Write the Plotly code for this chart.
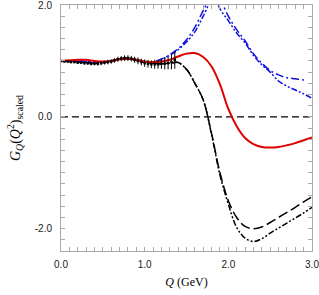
import plotly.graph_objects as go

# ---- data ----
q_red = [0.0,0.1,0.2,0.3,0.4,0.5,0.6,0.7,0.8,0.9,1.0,1.1,1.2,1.3,1.4,1.5,1.6,1.7,1.8,1.9,2.0,2.1,2.2,2.3,2.4,2.5,2.6,2.7,2.8,2.9,3.0]
g_red = [1.0,1.01,1.02,1.02,1.0,0.99,1.0,1.03,1.04,1.02,0.99,0.98,0.99,1.02,1.08,1.13,1.14,1.07,0.9,0.58,0.14,-0.17,-0.38,-0.49,-0.54,-0.55,-0.54,-0.51,-0.47,-0.42,-0.37]

q_blue_a = [0.0,0.1,0.2,0.3,0.4,0.5,0.6,0.7,0.8,0.9,1.0,1.1,1.2,1.3,1.4,1.5,1.6,1.7,1.8,1.85,1.9,2.0,2.1,2.2,2.3,2.4,2.5,2.6,2.7,2.8,2.9,3.0]
g_blue_a = [1.0,1.0,1.0,0.99,0.98,0.98,1.0,1.03,1.04,1.01,0.98,0.98,1.03,1.1,1.2,1.34,1.52,1.8,2.08,2.1,1.93,1.72,1.5,1.32,1.1,0.93,0.8,0.64,0.55,0.48,0.41,0.33]

q_blue_b = [0.0,0.1,0.2,0.3,0.4,0.5,0.6,0.7,0.8,0.9,1.0,1.1,1.2,1.3,1.4,1.5,1.6,1.7,1.8,1.85,1.9,2.0,2.1,2.2,2.3,2.4,2.5,2.6,2.7,2.8,2.9,2.93]
g_blue_b = [1.0,1.0,1.0,0.99,0.98,0.98,1.0,1.03,1.04,1.01,0.98,0.98,1.03,1.11,1.22,1.38,1.6,1.9,2.15,2.17,2.1,1.8,1.56,1.36,1.13,0.96,0.83,0.75,0.7,0.68,0.66,0.66]

q_black = [0.0,0.1,0.2,0.3,0.4,0.5,0.6,0.7,0.8,0.9,1.0,1.1,1.2,1.3,1.4,1.5,1.6,1.7,1.8,1.9,2.0,2.1,2.2,2.3,2.4,2.5,2.6,2.7,2.8,2.9,3.0]
g_black_dash = [1.0,0.99,0.98,0.97,0.96,0.97,1.0,1.04,1.05,1.02,0.98,0.96,0.95,0.96,0.97,0.85,0.6,0.3,-0.3,-1.0,-1.5,-1.8,-1.96,-2.0,-1.97,-1.89,-1.8,-1.71,-1.62,-1.52,-1.43]
g_black_dd = [1.0,0.99,0.98,0.97,0.96,0.97,1.0,1.04,1.05,1.02,0.98,0.96,0.95,0.96,0.97,0.85,0.6,0.3,-0.32,-1.04,-1.56,-1.98,-2.17,-2.23,-2.18,-2.08,-1.99,-1.9,-1.81,-1.72,-1.62]

q_data = [0.00,0.04,0.08,0.12,0.16,0.20,0.24,0.28,0.32,0.36,0.40,0.44,0.48,0.52,0.56,0.60,0.64,0.68,0.72,0.76,0.80,0.84,0.88,0.92,0.96,1.00,1.04,1.08,1.12,1.16,1.20,1.24,1.28,1.32,1.36]
g_data = [1.00,0.99,0.99,0.98,0.98,0.97,0.97,0.96,0.96,0.95,0.95,0.95,0.96,0.97,0.98,0.99,1.01,1.03,1.04,1.05,1.05,1.04,1.02,1.00,0.98,0.96,0.95,0.94,0.94,0.94,0.95,0.95,0.96,0.98,1.02]
e_data = [0.01,0.01,0.015,0.02,0.02,0.02,0.025,0.025,0.03,0.03,0.03,0.035,0.035,0.035,0.04,0.04,0.04,0.045,0.045,0.05,0.05,0.05,0.055,0.06,0.06,0.065,0.07,0.07,0.08,0.08,0.09,0.1,0.11,0.13,0.16]

x_ticks = [0.0, 1.0, 2.0, 3.0]
x_tick_text = ["0.0", "1.0", "2.0", "3.0"]
y_ticks = [-2.0, 0.0, 2.0]
y_tick_text = ["-2.0", "0.0", "2.0"]

X_RANGE = [0, 3.0]
Y_RANGE = [-2.4, 2.0]

fig = go.Figure()

fig.add_trace(go.Scatter(x=[0.0, 3.0], y=[0.0, 0.0], mode="lines",
                         line=dict(color="black", width=1.2, dash="7px,4px")))
fig.add_trace(go.Scatter(x=q_black, y=g_black_dash, mode="lines", line_shape="spline",
                         line=dict(color="black", width=1.5, dash="10px,4px")))
fig.add_trace(go.Scatter(x=q_black, y=g_black_dd, mode="lines", line_shape="spline",
                         line=dict(color="black", width=1.5, dash="6px,2px,2px,2px,2px,2px")))
fig.add_trace(go.Scatter(x=q_blue_a, y=g_blue_a, mode="lines", line_shape="spline",
                         line=dict(color="#1010e0", width=1.5, dash="6px,2px,2px,2px,2px,2px")))
fig.add_trace(go.Scatter(x=q_blue_b, y=g_blue_b, mode="lines", line_shape="spline",
                         line=dict(color="#1010e0", width=1.5, dash="8px,3px,2px,3px")))
fig.add_trace(go.Scatter(x=q_red, y=g_red, mode="lines", line_shape="spline",
                         line=dict(color="#e00000", width=2)))
fig.add_trace(go.Scatter(x=q_data, y=g_data, mode="markers",
                         marker=dict(color="black", size=2.5, symbol="square"),
                         error_y=dict(type="data", array=e_data, color="black", thickness=1, width=0)))
# invisible trace on the mirrored axes so their ticks are drawn
fig.add_trace(go.Scatter(x=[0.0], y=[0.0], xaxis="x2", yaxis="y2", mode="markers",
                         marker=dict(opacity=0), hoverinfo="skip"))

minor_x = [round(i * 0.1, 1) for i in range(31)]
minor_y = [round(-2.4 + i * 0.2, 1) for i in range(23)]

tick_font = dict(family="Liberation Sans", size=10, color="#222")

fig.update_layout(
    width=319, height=295,
    margin=dict(l=61, r=7, t=5, b=44),
    paper_bgcolor="white", plot_bgcolor="white",
    showlegend=False,
    font=tick_font,
    xaxis=dict(range=[X_RANGE[0] - 0.0001, X_RANGE[1] + 0.0001], tickvals=x_ticks, ticktext=x_tick_text,
               ticks="inside", ticklen=4, tickcolor="#aaa", showgrid=False, zeroline=False,
               showline=True, linecolor="#aaa", linewidth=1, automargin=False,
               ticklabeloverflow="allow",
               minor=dict(tickvals=minor_x, ticks="inside", ticklen=4, tickcolor="#aaa"),
               ticklabelstandoff=4,
               title=dict(text="<i>Q</i> (GeV)", font=dict(family="Liberation Serif", size=12, color="black"), standoff=8)),
    yaxis=dict(range=[Y_RANGE[0] - 0.0001, Y_RANGE[1] + 0.0001], tickvals=y_ticks, ticktext=y_tick_text,
               ticks="inside", ticklen=4, tickcolor="#aaa", showgrid=False, zeroline=False,
               showline=True, linecolor="#aaa", linewidth=1, automargin=False,
               ticklabeloverflow="allow",
               minor=dict(tickvals=minor_y, ticks="inside", ticklen=4, tickcolor="#aaa"),
               ticklabelstandoff=6,
               title=dict(text="<i>G</i><sub><i>Q</i></sub>(<i>Q</i><sup>2</sup>)<sub>scaled</sub>",
                          font=dict(family="Liberation Serif", size=14, color="black"), standoff=10)),
    xaxis2=dict(overlaying="x", side="top", range=[X_RANGE[0] - 0.0001, X_RANGE[1] + 0.0001],
                tickvals=minor_x, ticks="inside", ticklen=4, tickcolor="#aaa", showticklabels=False,
                showgrid=False, zeroline=False, showline=True, linecolor="#aaa", linewidth=1, automargin=False),
    yaxis2=dict(overlaying="y", side="right", range=[Y_RANGE[0] - 0.0001, Y_RANGE[1] + 0.0001],
                tickvals=minor_y, ticks="inside", ticklen=4, tickcolor="#aaa", showticklabels=False,
                showgrid=False, zeroline=False, showline=True, linecolor="#aaa", linewidth=1, automargin=False),
)

fig.write_html("out.html", config={"displayModeBar": False},
               post_script="document.body.style.margin='0';")
